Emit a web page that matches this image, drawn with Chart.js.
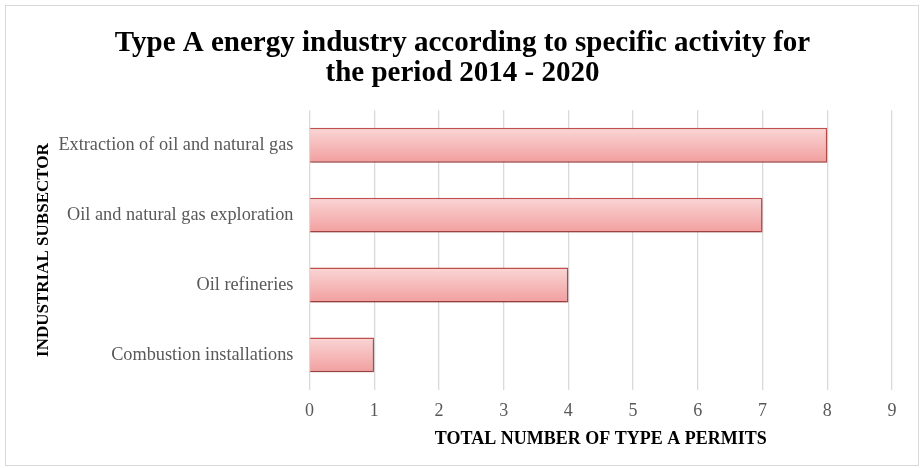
<!DOCTYPE html>
<html>
<head>
<meta charset="utf-8">
<script src="https://cdn.jsdelivr.net/npm/chart.js@4/dist/chart.umd.min.js"></script>
<style>
    html, body { margin: 0; padding: 0; background: #fff; }
    #caja { position: absolute; left: 5px; top: 5px; width: 912px; height: 459px; border: 1px solid #d9d9d9; }
    #grafica { position: absolute; left: -6px; top: -6px; }
</style>
</head>
<body>
<div id="caja"><canvas id="grafica" width="920" height="468"></canvas></div>
<script>
const sectores = ["Extraction of oil and natural gas", "Oil and natural gas exploration", "Oil refineries", "Combustion installations"];
const permisos = [8, 7, 4, 1];
const ticksX = [0, 1, 2, 3, 4, 5, 6, 7, 8, 9];

const fuente = "'Liberation Serif', 'Times New Roman', serif";

// degradado vertical para cada barra
function colorBarra(ctx) {
    const chart = ctx.chart;
    const escala = chart.scales.y;
    if (!escala || !chart.chartArea) return "#f6b4b4";
    const centro = escala.getPixelForValue(ctx.dataIndex);
    const alto = (chart.chartArea.bottom - chart.chartArea.top) / sectores.length * 0.5;
    const g = chart.ctx.createLinearGradient(0, centro - alto / 2, 0, centro + alto / 2);
    g.addColorStop(0, "#fad6d6");
    g.addColorStop(1, "#f29e9e");
    return g;
}

const sombra = {
    id: "sombra",
    beforeDatasetsDraw(chart) {
        chart.ctx.save();
        chart.ctx.shadowColor = "rgba(0,0,0,0.25)";
        chart.ctx.shadowBlur = 3;
        chart.ctx.shadowOffsetY = 2;
    },
    afterDatasetsDraw(chart) {
        chart.ctx.restore();
    }
};

new Chart(document.getElementById("grafica"), {
    type: "bar",
    data: {
        labels: sectores,
        datasets: [{
            data: permisos,
            backgroundColor: colorBarra,
            borderColor: "#c0504d",
            borderWidth: 1.5,
            borderSkipped: "start",
            categoryPercentage: 1,
            barPercentage: 0.5
        }]
    },
    options: {
        indexAxis: "y",
        responsive: false,
        animation: false,
        layout: { padding: { left: 33, right: 28, top: 20, bottom: 18 } },
        plugins: {
            legend: { display: false },
            tooltip: { enabled: false },
            title: {
                display: true,
                text: ["Type A energy industry according to specific activity for", "the period 2014 - 2020"],
                color: "#000",
                font: { family: fuente, size: 29, weight: "bold", lineHeight: 1.04 },
                padding: { top: 8, bottom: 22 }
            }
        },
        scales: {
            x: {
                min: 0,
                max: 9,
                afterBuildTicks: (s) => { s.ticks = ticksX.map(v => ({ value: v })); },
                grid: { color: "#d9d9d9", lineWidth: 1.3, drawTicks: false },
                border: { display: false },
                ticks: { color: "#595959", font: { family: fuente, size: 18 }, padding: 11 },
                title: {
                    display: true,
                    text: "TOTAL NUMBER OF TYPE A PERMITS",
                    color: "#000",
                    font: { family: fuente, size: 18, weight: "bold" },
                    padding: { top: -5, bottom: 0 }
                }
            },
            y: {
                grid: { display: false, drawTicks: false },
                border: { display: false },
                ticks: { color: "#595959", font: { family: fuente, size: 18.3 }, padding: 16 },
                title: {
                    display: true,
                    text: "INDUSTRIAL SUBSECTOR",
                    color: "#000",
                    font: { family: fuente, size: 17, weight: "bold" },
                    padding: { top: 0, bottom: -11 }
                }
            }
        }
    },
    plugins: [sombra]
});
</script>
</body>
</html>
